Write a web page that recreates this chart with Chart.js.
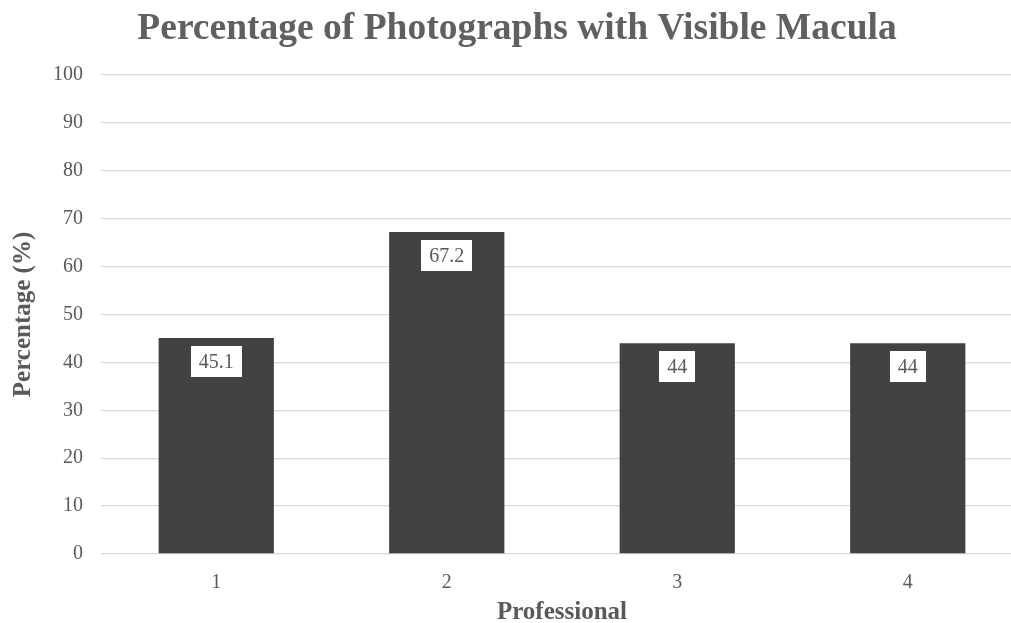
<!DOCTYPE html>
<html>
<head>
<meta charset="utf-8">
<title>Percentage of Photographs with Visible Macula</title>
<script src="https://cdn.jsdelivr.net/npm/chart.js@4"></script>
<style>
  html, body { margin: 0; padding: 0; background: #ffffff; overflow: hidden; }
  #wrap { position: relative; width: 1034px; height: 623px; }
</style>
</head>
<body>
<div id="wrap"><canvas id="chart"></canvas></div>
<script>
// Chart data
const professionals = ['1', '2', '3', '4'];
const visiblePct = [45.1, 67.2, 44, 44];
const yMin = 0;
const yMax = 100;
const yStep = 10;

const SERIF = '"Liberation Serif", "Times New Roman", Times, serif';
const TEXT_GRAY = '#595959';

// White value boxes inset just below the top of each bar
const valueBoxes = {
  id: 'valueBoxes',
  afterDatasetsDraw(chart) {
    const ctx = chart.ctx;
    const meta = chart.getDatasetMeta(0);
    const values = chart.data.datasets[0].data;
    ctx.save();
    ctx.font = '20px ' + SERIF;
    ctx.textAlign = 'center';
    ctx.textBaseline = 'middle';
    meta.data.forEach((bar, i) => {
      const text = String(values[i]);
      const w = ctx.measureText(text).width + 16;
      const h = 31;
      const top = bar.y + 8;
      ctx.fillStyle = '#ffffff';
      ctx.fillRect(Math.round(bar.x - w / 2), Math.round(top), Math.round(w), h);
      ctx.fillStyle = TEXT_GRAY;
      ctx.fillText(text, bar.x, top + h / 2 + 1);
    });
    ctx.restore();
  }
};

new Chart(document.getElementById('chart'), {
  type: 'bar',
  data: {
    labels: professionals,
    datasets: [{
      data: visiblePct,
      backgroundColor: '#444240',
      borderWidth: 0,
      barPercentage: 0.5,
      categoryPercentage: 1.0
    }]
  },
  options: {
    responsive: true,
    maintainAspectRatio: false,
    animation: false,
    layout: { padding: { left: 11, right: 11, top: 0, bottom: 0 } },
    plugins: {
      legend: { display: false },
      tooltip: { enabled: false },
      title: {
        display: true,
        text: 'Percentage of Photographs with Visible Macula',
        color: '#606060',
        font: { family: SERIF, size: 37.5, weight: 'bold', lineHeight: 1.2 },
        padding: { top: 7, bottom: 23 }
      }
    },
    scales: {
      x: {
        grid: { display: false, drawTicks: false },
        border: { display: false },
        ticks: {
          color: TEXT_GRAY,
          font: { family: SERIF, size: 20 },
          padding: 17
        },
        title: {
          display: true,
          text: 'Professional',
          color: TEXT_GRAY,
          font: { family: SERIF, size: 25, weight: 'bold', lineHeight: 0.85 },
          padding: { top: 0, bottom: 0 }
        },
        afterFit(scale) { scale.height = 69; }
      },
      y: {
        min: yMin,
        max: yMax,
        grid: { color: '#d9d9d9', lineWidth: 1.3, drawTicks: false },
        border: { display: false },
        ticks: {
          stepSize: yStep,
          color: TEXT_GRAY,
          font: { family: SERIF, size: 20 },
          padding: 18
        },
        title: {
          display: true,
          text: 'Percentage (%)',
          color: TEXT_GRAY,
          font: { family: SERIF, size: 25, weight: 'bold', lineHeight: 1.2 },
          padding: { top: -2, bottom: 0 }
        },
        afterFit(scale) { scale.width = 90; }
      }
    }
  },
  plugins: [valueBoxes]
});
</script>
</body>
</html>
